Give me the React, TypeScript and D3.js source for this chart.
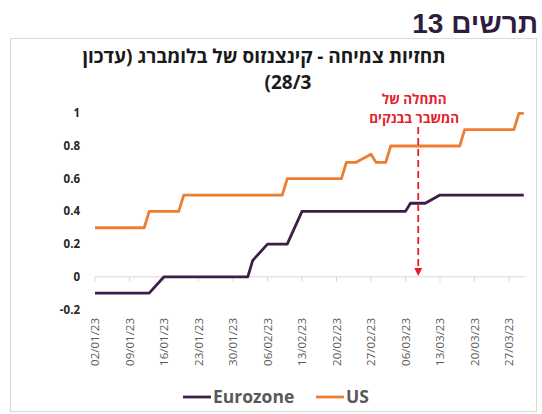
import React, { useEffect, useRef } from "react";
import * as d3 from "d3";

// header / titles
const figureTitle = "תרשים 13";
const chartTitleLines = ["תחזיות צמיחה - קינצנזוס של בלומברג (עדכון", "28/3)"];
const annotationLines = ["התחלה של", "המשבר בבנקים"];
const annotationDate = "2023-03-08T14:00";

// series (date, value) at the points where the forecast changes
const usDates = [
  "2023-01-02", "2023-01-12", "2023-01-13", "2023-01-19", "2023-01-20",
  "2023-02-09", "2023-02-10", "2023-02-21", "2023-02-22", "2023-02-24",
  "2023-02-27", "2023-02-28", "2023-03-02", "2023-03-03", "2023-03-17",
  "2023-03-18", "2023-03-28", "2023-03-29", "2023-03-30",
];
const usValues = [
  0.3, 0.3, 0.4, 0.4, 0.5,
  0.5, 0.6, 0.6, 0.7, 0.7,
  0.75, 0.7, 0.7, 0.8, 0.8,
  0.9, 0.9, 1.0, 1.0,
];

const euDates = [
  "2023-01-02", "2023-01-13", "2023-01-16", "2023-02-02", "2023-02-03",
  "2023-02-06", "2023-02-10", "2023-02-13", "2023-03-06", "2023-03-07",
  "2023-03-10", "2023-03-13", "2023-03-30",
];
const euValues = [
  -0.1, -0.1, 0, 0, 0.1,
  0.2, 0.2, 0.4, 0.4, 0.45,
  0.45, 0.5, 0.5,
];

const yTicks = [-0.2, 0, 0.2, 0.4, 0.6, 0.8, 1];
const xTickDates = [
  "2023-01-02", "2023-01-09", "2023-01-16", "2023-01-23", "2023-01-30",
  "2023-02-06", "2023-02-13", "2023-02-20", "2023-02-27", "2023-03-06",
  "2023-03-13", "2023-03-20", "2023-03-27",
];

const seriesNames = ["Eurozone", "US"];
const seriesColors = ["#3b1f48", "#ed7d31"];

const FONT = "'Open Sans', 'Noto Sans', 'DejaVu Sans', sans-serif";

const App = () => {
  const svgRef = useRef<SVGSVGElement | null>(null);

  useEffect(() => {
    if (!svgRef.current) return;
    document.body.style.margin = "0";

    const width = 542;
    const height = 414;
    const svg = d3.select(svgRef.current);
    svg.selectAll("*").remove();
    svg.attr("width", width).attr("height", height);

    const parse = (s: string) => new Date(s + (s.length === 10 ? "T00:00" : ""));

    const x = d3.scaleTime()
      .domain([parse("2023-01-02"), parse("2023-03-27")])
      .range([95, 509]);
    const y = d3.scaleLinear().domain([-0.2, 1]).range([309.5, 113.3]);

    // frame
    svg.append("rect")
      .attr("x", 10.5).attr("y", 38.5)
      .attr("width", 526).attr("height", 373)
      .attr("fill", "white")
      .attr("stroke", "#d9d9d9");

    // figure header
    svg.append("text")
      .attr("x", 538).attr("y", 33)
      .attr("text-anchor", "start")
      .attr("direction", "rtl")
      .attr("font-family", "'Liberation Sans', Arial, sans-serif")
      .attr("font-weight", "bold")
      .attr("font-size", 28)
      .attr("fill", "#2f1d3d")
      .text(figureTitle);

    // chart title
    chartTitleLines.forEach((line, i) => {
      svg.append("text")
        .attr("x", i === 0 ? 264 : 288)
        .attr("y", 63 + i * 26)
        .attr("text-anchor", "middle")
        .attr("direction", "rtl")
        .attr("font-family", FONT)
        .attr("font-weight", "bold")
        .attr("font-size", 19)
        .attr("fill", "#1a1a1a")
        .text(line);
    });

    // y axis labels
    svg.append("g")
      .selectAll("text")
      .data(yTicks)
      .join("text")
      .attr("x", 80)
      .attr("y", d => y(d))
      .attr("dy", "0.35em")
      .attr("text-anchor", "end")
      .attr("font-family", FONT)
      .attr("font-weight", "bold")
      .attr("font-size", 11.5)
      .attr("fill", "#262626")
      .text(d => String(d));

    // x axis at zero
    const xEnd = x(parse("2023-03-30")) + 1;
    svg.append("line")
      .attr("x1", 95).attr("x2", xEnd)
      .attr("y1", y(0)).attr("y2", y(0))
      .attr("stroke", "#d9d9d9").attr("stroke-width", 1);

    const ticks = xTickDates.map(parse);
    svg.append("g")
      .selectAll("line")
      .data(ticks)
      .join("line")
      .attr("x1", d => x(d)).attr("x2", d => x(d))
      .attr("y1", y(0)).attr("y2", y(0) + 5)
      .attr("stroke", "#d9d9d9");

    const fmt = d3.timeFormat("%d/%m/%y");
    svg.append("g")
      .selectAll("text")
      .data(ticks)
      .join("text")
      .attr("transform", d => `translate(${x(d)},318) rotate(-90)`)
      .attr("dy", "0.35em")
      .attr("text-anchor", "end")
      .attr("font-family", FONT)
      .attr("font-size", 11.5)
      .attr("fill", "#595959")
      .text(d => fmt(d));

    // lines
    const line = d3.line<[Date, number]>()
      .x(d => x(d[0]))
      .y(d => y(d[1]));

    const euData: [Date, number][] = euDates.map((d, i) => [parse(d), euValues[i]]);
    const usData: [Date, number][] = usDates.map((d, i) => [parse(d), usValues[i]]);

    [euData, usData].forEach((data, i) => {
      svg.append("path")
        .datum(data)
        .attr("d", line)
        .attr("fill", "none")
        .attr("stroke", seriesColors[i])
        .attr("stroke-width", 2.8)
        .attr("stroke-linejoin", "round");
    });

    // annotation
    const ax = x(parse(annotationDate));
    annotationLines.forEach((t, i) => {
      svg.append("text")
        .attr("x", ax - 4)
        .attr("y", 104 + i * 18.5)
        .attr("text-anchor", "middle")
        .attr("direction", "rtl")
        .attr("font-family", FONT)
        .attr("font-weight", "bold")
        .attr("font-size", 13.5)
        .attr("fill", "#e4202a")
        .text(t);
    });
    svg.append("line")
      .attr("x1", ax).attr("x2", ax)
      .attr("y1", 127).attr("y2", 268)
      .attr("stroke", "#e4202a")
      .attr("stroke-width", 1.8)
      .attr("stroke-dasharray", "7,4");
    svg.append("path")
      .attr("d", `M${ax - 4},268 L${ax + 4},268 L${ax},276 Z`)
      .attr("fill", "#e4202a");

    // legend
    const legendX = [183, 316];
    seriesNames.forEach((name, i) => {
      const g = svg.append("g").attr("transform", `translate(${legendX[i]},397)`);
      g.append("line")
        .attr("x1", 0).attr("x2", 28)
        .attr("stroke", seriesColors[i])
        .attr("stroke-width", 2.8);
      g.append("text")
        .attr("x", 30)
        .attr("dy", "0.35em")
        .attr("font-family", FONT)
        .attr("font-weight", "bold")
        .attr("font-size", 17.5)
        .attr("fill", "#595959")
        .text(name);
    });
  }, []);

  return (
    <div>
      <svg ref={svgRef} style={{ display: "block" }}></svg>
    </div>
  );
};

export default App;
